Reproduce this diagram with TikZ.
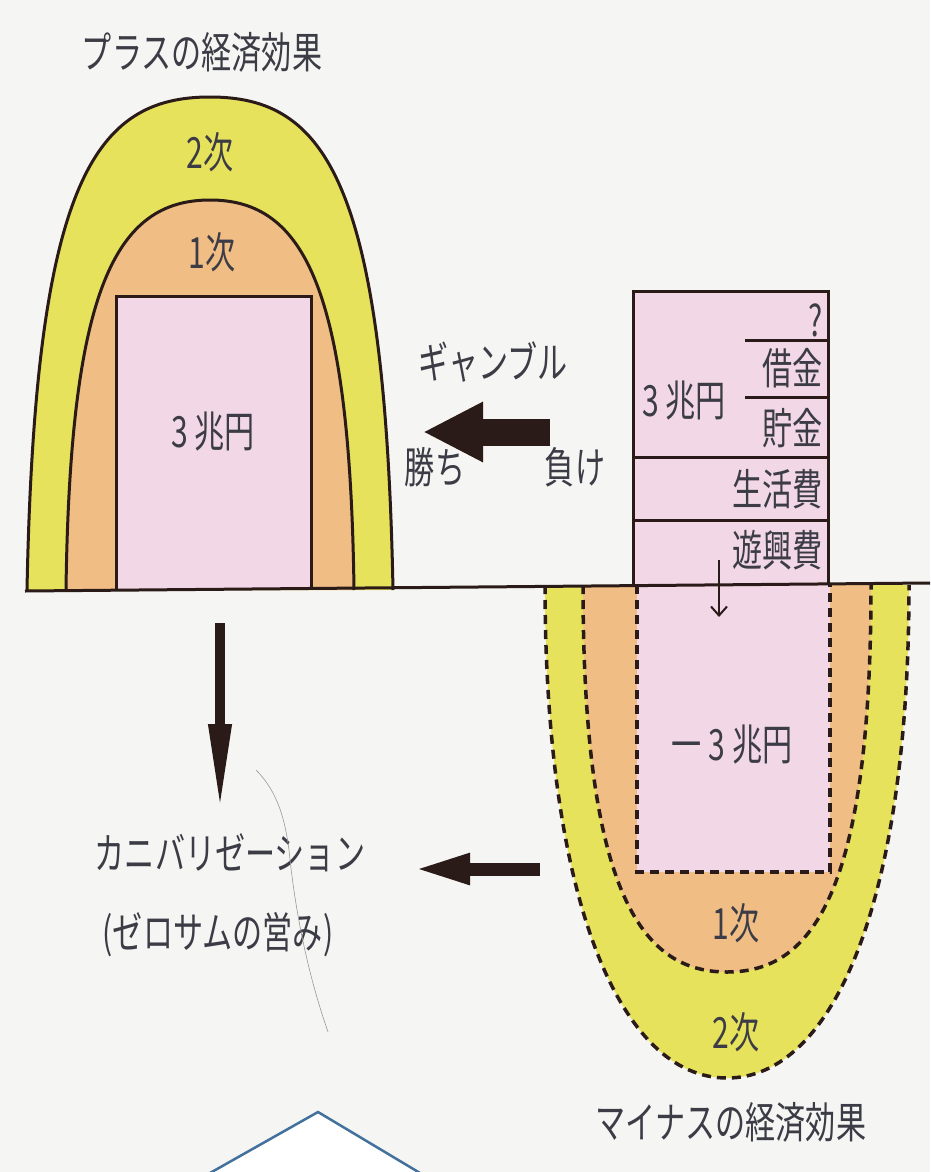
\documentclass[tikz,border=0pt]{standalone}
\usepackage{fontspec}
\newfontfamily\jp[FakeStretch=0.70]{Noto Sans CJK JP}
\usetikzlibrary{arrows.meta}
\definecolor{bgc}{HTML}{F5F5F3}
\definecolor{yel}{HTML}{E6E25C}
\definecolor{ora}{HTML}{F0BD84}
\definecolor{pnk}{HTML}{F2D8E6}
\definecolor{ink}{HTML}{2A1A18}
\definecolor{txt}{HTML}{3C3C46}
\definecolor{tri}{HTML}{41719C}
\begin{document}
\begin{tikzpicture}[x=1pt,y=-1pt,
  lbl/.style={font={\jp\fontsize{43}{50}\selectfont}, text=txt, inner sep=0pt},
  edge/.style={draw=ink, line width=3pt},
  dashedge/.style={draw=ink, line width=3.5pt, dash pattern=on 9pt off 6pt}]
\useasboundingbox (0,0) rectangle (930,1172);
\fill[bgc] (0,0) rectangle (930,1172);

% ---------- plus effect arch ----------
\fill[yel] (27,590) .. controls (35,180) and (95,97) .. (210,97)
  .. controls (325,97) and (385,180) .. (393,590) -- cycle;
\fill[ora] (66,590) .. controls (70,290) and (115,200) .. (210,200)
  .. controls (305,200) and (350,290) .. (354,590) -- cycle;
\fill[pnk] (116,296) rectangle (311,590);
\draw[edge] (27,590) .. controls (35,180) and (95,97) .. (210,97)
  .. controls (325,97) and (385,180) .. (393,590);
\draw[edge] (66,590) .. controls (70,290) and (115,200) .. (210,200)
  .. controls (305,200) and (350,290) .. (354,590);
\draw[edge] (116,590) -- (116,296) -- (311,296) -- (311,590);

% ---------- minus effect arch ----------
\fill[yel] (545,585) .. controls (545,900) and (620,1078) .. (727,1078)
  .. controls (834,1078) and (909,900) .. (909,585) -- cycle;
\fill[ora] (583,585) .. controls (583,900) and (645,972) .. (727,972)
  .. controls (809,972) and (871,900) .. (871,585) -- cycle;
\fill[pnk] (637,585) rectangle (830,872);
\draw[dashedge] (545,585) .. controls (545,900) and (620,1078) .. (727,1078)
  .. controls (834,1078) and (909,900) .. (909,585);
\draw[dashedge] (583,585) .. controls (583,900) and (645,972) .. (727,972)
  .. controls (809,972) and (871,900) .. (871,585);
\draw[dashedge] (637,585) -- (637,872) -- (830,872) -- (830,585);

% ---------- stack box ----------
\fill[pnk] (633,291) rectangle (828,585);
\draw[edge] (633,585) -- (633,291) -- (828,291) -- (828,585);
\draw[edge] (633,457) -- (828,457);
\draw[edge] (633,520) -- (828,520);
\draw[edge] (745,340) -- (828,340);
\draw[edge] (745,397) -- (828,397);

% ---------- base line ----------
\draw[edge] (25,591) -- (930,583);

% ---------- texts ----------
\node[lbl] (plus) at (202,52) {プラスの経済効果};
\node[lbl] (p2) at (210,152) {2次};
\node[lbl] (p1) at (212,252) {1次};
\node[lbl] (p3) at (213,432) {3 兆円};
\node[lbl] (gamble) at (493,362) {ギャンブル};
\node[lbl] (win) at (435,467) {勝ち};
\node[lbl] (lose) at (575,467) {負け};
\node[lbl, anchor=east] (q) at (823,320) {?};
\node[lbl, anchor=east] (debt) at (823,368) {借金};
\node[lbl, anchor=east] (save) at (823,428) {貯金};
\node[lbl] (s3) at (684,401) {3 兆円};
\node[lbl, anchor=east] (living) at (823,489) {生活費};
\node[lbl, anchor=east] (play) at (823,550) {遊興費};
\node[lbl] (m3) at (732,745) {一 3 兆円};
\node[lbl] (m1) at (736,923) {1次};
\node[lbl] (m2) at (736,1032) {2次};
\node[lbl] (minus) at (731,1122) {マイナスの経済効果};
\node[lbl] (canni) at (230,853) {カニバリゼーション};
\node[lbl] (zero) at (218,935) {(ゼロサムの営み)};

% ---------- arrows ----------
\coordinate (gS) at (550,432);
\coordinate (gE) at (423,432);
\draw[draw=ink, line width=27pt, -{Triangle[length=60pt,width=56pt]}] (gS) -- (gE);
\coordinate (dS) at (220,623);
\coordinate (dE) at (220,812);
\draw[draw=ink, line width=10pt, -{Triangle[length=88pt,width=21pt]}] (dS) -- (dE);
\coordinate (lS) at (540,869);
\coordinate (lE) at (413,869);
\draw[draw=ink, line width=13pt, -{Triangle[length=57pt,width=28pt]}] (lS) -- (lE);
\coordinate (sS) at (719,560);
\coordinate (sE) at (719,617);
\draw[draw=ink, line width=2pt, -{Straight Barb[length=9pt,width=16pt]}] (sS) -- (sE);

% ---------- pencil stroke ----------
\draw[line width=0.6pt, draw=gray!80] (256,770) .. controls (278,792) and (285,820) .. (289,850)
  .. controls (296,920) and (310,980) .. (328,1032);

% ---------- triangle ----------
\draw[draw=tri, line width=2.5pt, fill=white] (210,1173) -- (318,1112) -- (420,1173);
\end{tikzpicture}
\end{document}
